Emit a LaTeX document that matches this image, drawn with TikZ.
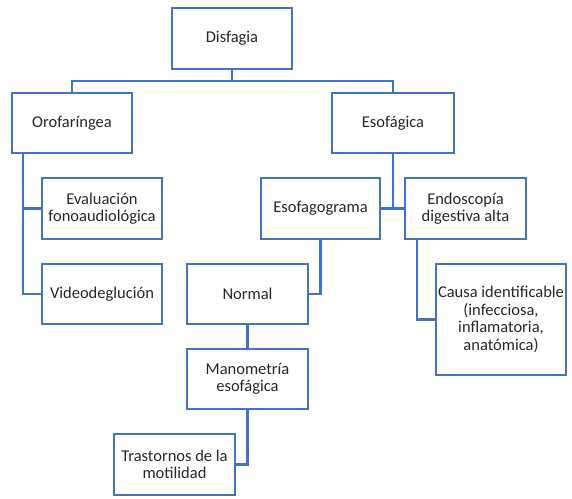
\documentclass[tikz,border=0pt]{standalone}
\usepackage{fontspec}
\setmainfont{Carlito}
\usetikzlibrary{calc}
\definecolor{lineblue}{HTML}{4472C4}
\begin{document}
\begin{tikzpicture}[x=1pt,y=-1pt,
  box/.style={draw=lineblue,line width=2.8pt,rectangle,inner sep=0pt,outer sep=0pt,
    align=center,text=black!85,font=\fontsize{16.5}{17.5}\selectfont},
  conn/.style={draw=lineblue,line width=2.8pt}]
\useasboundingbox (0,0) rectangle (572,498);
\node[box,minimum width=120,minimum height=61] (dis) at (232,38.5) {Disfagia};
\node[box,minimum width=120,minimum height=60] (oro) at (72,123) {Orofaríngea};
\node[box,minimum width=122,minimum height=60] (eso) at (393,123) {Esofágica};
\node[box,minimum width=120,minimum height=61] (eval) at (102,208.5) {Evaluación\\fonoaudiológica};
\node[box,minimum width=120,minimum height=60] (video) at (102,294) {Videodeglución};
\node[box,minimum width=119,minimum height=61] (esog) at (320.5,208.5) {Esofagograma};
\node[box,minimum width=121,minimum height=61] (endo) at (465.5,208.5) {Endoscopía\\digestiva alta};
\node[box,minimum width=121,minimum height=60] (normal) at (247.5,294) {Normal};
\node[box,minimum width=121,minimum height=60] (mano) at (247.5,379) {Manometría\\esofágica};
\node[box,minimum width=121,minimum height=61] (tras) at (174.5,464.5) {Trastornos de la\\motilidad};
\node[box,minimum width=130,minimum height=111] (causa) at (501,319.5) {Causa identificable\\(infecciosa,\\inflamatoria,\\anatómica)};
\coordinate (top) at ($(dis.south)+(0,12)$);
\draw[conn] (dis.south) -- (top) -| (oro.north);
\draw[conn] (top) -| (eso.north);
\coordinate (orol) at ($(oro.south west)+(11,0)$);
\draw[conn] (orol) |- (video.west);
\draw[conn] (orol) |- (eval.west);
\draw[conn] (eso.south) -- (eso.south |- esog.east);
\draw[conn] (esog.east) -- (endo.west);
\draw[conn] (esog.south) |- (normal.east);
\draw[conn] (normal.south) -- (mano.north);
\draw[conn] (mano.south) |- (tras.east);
\coordinate (endol) at ($(endo.south west)+(12,0)$);
\draw[conn] (endol) |- (causa.west);
\end{tikzpicture}
\end{document}
